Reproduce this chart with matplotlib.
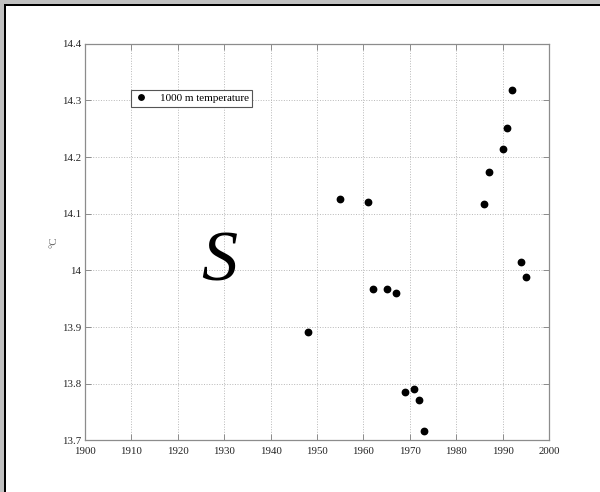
import matplotlib
matplotlib.use("Agg")
import matplotlib.pyplot as plt
import matplotlib.ticker as mticker
from matplotlib.patches import Rectangle

# 1000 m temperature samples (year, deg C)
years = [1948, 1955, 1961, 1962, 1965, 1967, 1969, 1971, 1972, 1973,
         1986, 1987, 1990, 1991, 1992, 1994, 1995]
temps = [13.892, 14.126, 14.121, 13.967, 13.968, 13.960, 13.785, 13.790, 13.771, 13.717,
         14.117, 14.173, 14.215, 14.252, 14.318, 14.014, 13.989]

x_ticks = [1900, 1910, 1920, 1930, 1940, 1950, 1960, 1970, 1980, 1990, 2000]
y_ticks = [13.7, 13.8, 13.9, 14.0, 14.1, 14.2, 14.3, 14.4]
y_tick_labels = ['13.7', '13.8', '13.9', '14', '14.1', '14.2', '14.3', '14.4']

plt.rcParams['font.family'] = ['Liberation Serif', 'DejaVu Serif']

fig = plt.figure(figsize=(6.0, 4.92), dpi=100)
fig.patch.set_facecolor('white')

# window frame: gray strip + black line on top and left
W, H = 600.0, 492.0
fig.add_artist(Rectangle((0, 1 - 4 / H), 1, 4 / H, transform=fig.transFigure,
                         facecolor='#c0c0c0', edgecolor='none'))
fig.add_artist(Rectangle((0, 0), 4 / W, 1, transform=fig.transFigure,
                         facecolor='#c0c0c0', edgecolor='none'))
fig.add_artist(Rectangle((4 / W, 1 - 6.3 / H), 1, 2.3 / H, transform=fig.transFigure,
                         facecolor='black', edgecolor='none'))
fig.add_artist(Rectangle((4 / W, 0), 2.3 / W, 1 - 4 / H, transform=fig.transFigure,
                         facecolor='black', edgecolor='none'))

ax = fig.add_axes([85 / W, (H - 440.4) / H, 464 / W, 396.7 / H])

ax.plot(years, temps, 'o', color='black', markersize=4.6, label='1000 m temperature')

ax.set_xlim(1900, 2000)
ax.set_ylim(13.7, 14.4)
ax.xaxis.set_major_locator(mticker.FixedLocator(x_ticks))
ax.yaxis.set_major_locator(mticker.FixedLocator(y_ticks))
ax.set_yticklabels(y_tick_labels)

ax.grid(True, linestyle=':', color='#b8b8b8', linewidth=0.7)
for s in ax.spines.values():
    s.set_color('#8c8c8c')
    s.set_linewidth(0.9)
ax.tick_params(direction='in', length=4, width=0.7, color='#8c8c8c',
               top=True, right=True, labelsize=7.8, labelcolor='#222222')
ax.tick_params(axis='x', pad=5)
ax.tick_params(axis='y', pad=3)

ax.set_ylabel('°C', fontsize=7.8, color='#666666', labelpad=2)

ax.text(1929.0, 14.013, 'S', fontsize=52, fontstyle='italic',
        ha='center', va='center', color='black')

leg = ax.legend(loc='upper left', bbox_to_anchor=(0.099, 0.883), borderaxespad=0,
                fontsize=8, fancybox=False, framealpha=1, handlelength=1.2,
                handletextpad=1.1, borderpad=0.3, numpoints=1, markerscale=0.85)
leg.get_frame().set_edgecolor('#555555')
leg.get_frame().set_linewidth(0.8)

fig.savefig('out.png', dpi=100)
